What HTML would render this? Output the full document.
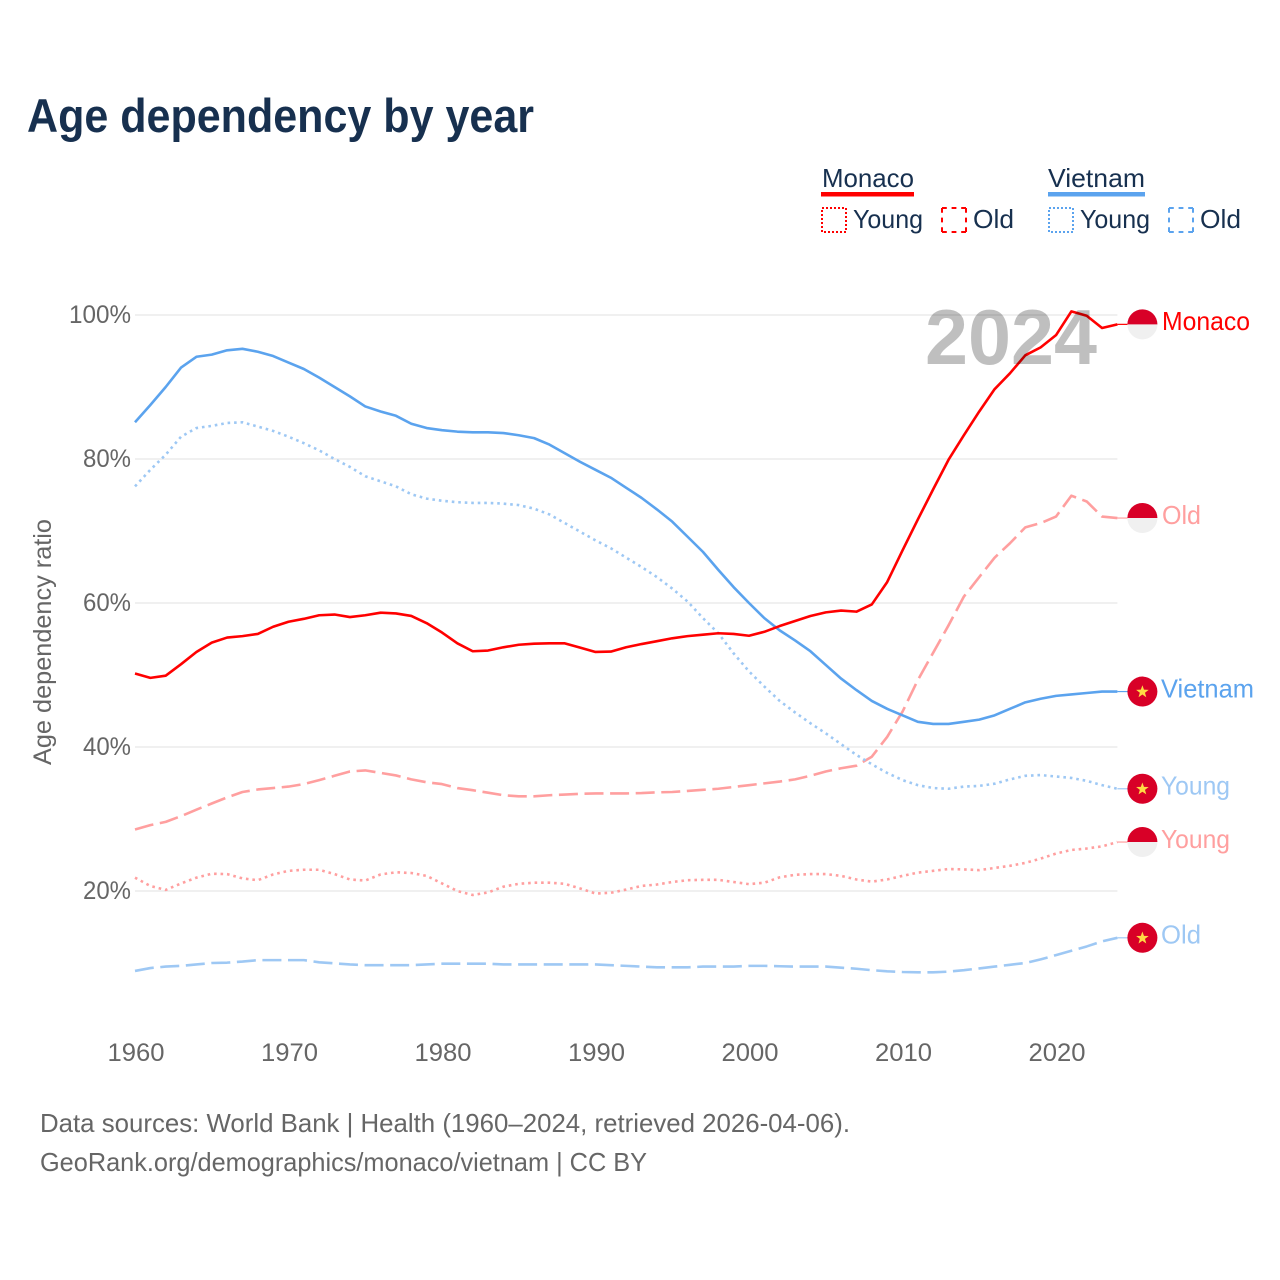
<!DOCTYPE html>
<html lang="en">
<head>
<meta charset="utf-8">
<title>Age dependency by year</title>
<style>
html,body{margin:0;padding:0;background:#fff;}
svg{display:block;font-family:"Liberation Sans",sans-serif;}
</style>
</head>
<body>
<svg id="chart" xmlns="http://www.w3.org/2000/svg" width="1280" height="1280" viewBox="0 0 1280 1280">
  <rect x="0" y="0" width="1280" height="1280" fill="#fff"/>
  <text x="27" y="132" font-size="47" font-weight="700" fill="#17304f" textLength="507" lengthAdjust="spacingAndGlyphs">Age dependency by year</text>

  <g fill="#17304f" font-size="26">
    <text x="822" y="187" textLength="92" lengthAdjust="spacingAndGlyphs">Monaco</text>
    <rect x="821" y="192" width="93" height="4.5" fill="#ff0000"/>
    <rect x="822" y="208" width="24" height="24" fill="none" stroke="#ff0000" stroke-width="2" stroke-dasharray="2 2"/>
    <text x="853" y="228" textLength="70" lengthAdjust="spacingAndGlyphs">Young</text>
    <rect x="942" y="208" width="24" height="24" fill="none" stroke="#ff0000" stroke-width="2" stroke-dasharray="4.8 4.8 4.8 4.8 4.8 0"/>
    <text x="973" y="228" textLength="41" lengthAdjust="spacingAndGlyphs">Old</text>

    <text x="1048" y="187" textLength="97" lengthAdjust="spacingAndGlyphs">Vietnam</text>
    <rect x="1048" y="192" width="97" height="4.5" fill="#5ba3ee"/>
    <rect x="1049" y="208" width="24" height="24" fill="none" stroke="#5ba3ee" stroke-width="2" stroke-dasharray="2 2"/>
    <text x="1080" y="228" textLength="70" lengthAdjust="spacingAndGlyphs">Young</text>
    <rect x="1169" y="208" width="24" height="24" fill="none" stroke="#5ba3ee" stroke-width="2" stroke-dasharray="4.8 4.8 4.8 4.8 4.8 0"/>
    <text x="1200" y="228" textLength="41" lengthAdjust="spacingAndGlyphs">Old</text>
  </g>

  <g id="grid"></g>
  <g id="yticks" fill="#666" font-size="25"></g>
  <g id="xticks" fill="#666" font-size="25"></g>
  <text transform="translate(51,765) rotate(-90)" x="0" y="0" font-size="25" fill="#666" textLength="246" lengthAdjust="spacingAndGlyphs">Age dependency ratio</text>

  <g id="series"></g>
  <text id="year" x="925" y="364" font-size="78" font-weight="700" fill="#000" fill-opacity="0.25" textLength="172" lengthAdjust="spacingAndGlyphs"></text>
  <g id="ends"></g>

  <text x="40" y="1132" font-size="26" fill="#666" textLength="810" lengthAdjust="spacingAndGlyphs">Data sources: World Bank | Health (1960–2024, retrieved 2026-04-06).</text>
  <text x="40" y="1171" font-size="26" fill="#666" textLength="607" lengthAdjust="spacingAndGlyphs">GeoRank.org/demographics/monaco/vietnam | CC BY</text>
</svg>

<script>
const firstYear = 1960;
const xTickYears = [1960, 1970, 1980, 1990, 2000, 2010, 2020];
const yTickValues = [20, 40, 60, 80, 100];
const yearLabel = "2024";

const monacoTotal = [50.2,49.6,49.9,51.5,53.2,54.5,55.2,55.4,55.7,56.7,57.4,57.8,58.3,58.4,58.05,58.3,58.65,58.55,58.2,57.2,55.9,54.4,53.3,53.4,53.85,54.2,54.35,54.4,54.4,53.8,53.2,53.25,53.85,54.3,54.7,55.1,55.4,55.6,55.8,55.7,55.45,56,56.8,57.5,58.2,58.7,58.95,58.8,59.8,62.9,67.3,71.6,75.8,79.9,83.3,86.6,89.7,91.9,94.4,95.5,97.2,100.5,99.9,98.2,98.7];
const monacoOld = [28.55,29.15,29.6,30.4,31.3,32.15,33,33.75,34.1,34.3,34.5,34.85,35.4,36,36.6,36.75,36.4,36.05,35.5,35.1,34.85,34.3,34,33.65,33.3,33.15,33.15,33.3,33.4,33.5,33.55,33.55,33.55,33.6,33.7,33.75,33.9,34.05,34.2,34.45,34.7,34.95,35.2,35.5,36,36.6,37.05,37.4,38.65,41.4,44.9,49.3,53.1,56.9,60.9,63.6,66.3,68.3,70.5,71.1,72,74.9,74.1,72,71.8];
const monacoYoung = [21.85,20.7,20.15,21.05,21.85,22.4,22.35,21.75,21.5,22.3,22.8,22.95,22.95,22.35,21.6,21.45,22.3,22.6,22.5,22.1,21.05,20,19.45,19.8,20.6,21,21.15,21.15,21,20.35,19.65,19.75,20.2,20.7,20.9,21.25,21.5,21.55,21.55,21.25,20.95,21.15,21.9,22.25,22.35,22.35,22.1,21.6,21.3,21.6,22.1,22.55,22.8,23.05,23,22.9,23.2,23.5,23.9,24.5,25.2,25.7,25.9,26.2,26.8];
const vietnamTotal = [85.1,87.5,90,92.7,94.2,94.5,95.1,95.3,94.9,94.3,93.4,92.5,91.3,90,88.7,87.3,86.6,86,84.9,84.3,84,83.8,83.7,83.7,83.6,83.3,82.9,82,80.8,79.6,78.5,77.4,76,74.6,73,71.3,69.2,67.1,64.6,62.2,60,57.9,56.2,54.8,53.3,51.4,49.5,47.9,46.4,45.3,44.4,43.5,43.2,43.2,43.5,43.8,44.4,45.3,46.2,46.7,47.1,47.3,47.5,47.7,47.7];
const vietnamYoung = [76.2,78.5,80.6,83.1,84.3,84.6,85,85.1,84.5,83.9,83.1,82.2,81.2,80,78.9,77.6,76.9,76.2,75.1,74.5,74.2,74,73.9,73.9,73.8,73.6,73.1,72.3,71.1,69.9,68.7,67.6,66.3,65,63.6,62,60.2,57.9,55.8,53,50.5,48.4,46.4,44.8,43.3,41.9,40.4,38.9,37.6,36.4,35.4,34.7,34.3,34.2,34.5,34.6,34.9,35.5,36,36.1,35.9,35.7,35.3,34.7,34.2];
const vietnamOld = [8.9,9.3,9.5,9.6,9.8,10,10.05,10.2,10.4,10.4,10.4,10.4,10.1,9.95,9.8,9.7,9.7,9.7,9.7,9.8,9.9,9.9,9.9,9.9,9.8,9.8,9.8,9.8,9.8,9.8,9.8,9.7,9.6,9.5,9.4,9.4,9.4,9.5,9.5,9.5,9.6,9.6,9.55,9.5,9.5,9.5,9.35,9.2,9,8.85,8.75,8.7,8.7,8.8,9,9.25,9.5,9.75,10,10.5,11.1,11.7,12.3,13,13.5];

const NS = "http://www.w3.org/2000/svg";
const plotLeft = 135, plotRight = 1117.4, yTop = 315, yBottom = 891;
const yearCount = monacoTotal.length;
function xScale(year) {
  return plotLeft + (year - firstYear) * (plotRight - plotLeft) / (yearCount - 1);
}
function yScale(value) {
  return yBottom - (value - 20) * (yBottom - yTop) / 80;
}
function make(tag, attrs, parent) {
  const el = document.createElementNS(NS, tag);
  for (const k in attrs) el.setAttribute(k, attrs[k]);
  parent.appendChild(el);
  return el;
}

const grid = document.getElementById("grid");
const yticks = document.getElementById("yticks");
const xticks = document.getElementById("xticks");
const seriesLayer = document.getElementById("series");
const ends = document.getElementById("ends");

yTickValues.forEach(function (v) {
  const line = make("line", {x1: plotLeft, x2: plotRight, y1: yScale(v), y2: yScale(v), stroke: "#e6e6e6", "stroke-width": 1.3}, grid);
  
  
  const label = make("text", {x: 131, y: yScale(v) + 8, "text-anchor": "end", textLength: v === 100 ? 62 : 48, lengthAdjust: "spacingAndGlyphs"}, yticks);
  
  
  label.textContent = v + "%";
});

xTickYears.forEach(function (y) {
  const label = make("text", {x: xScale(y) - 28 + 0.5, y: 1061, textLength: 57, lengthAdjust: "spacingAndGlyphs"}, xticks);
  
  
  label.textContent = y;
});

const DOT = "2.6 3.9", DASH = "19 6.6";
const seriesList = [
  {key: "vietnam-old", values: vietnamOld, color: "#9ec8f4", dash: DASH, label: "Old", width: 40, labelX: 1161, flag: "vn"},
  {key: "monaco-old", values: monacoOld, color: "#ff9f9f", dash: DASH, label: "Old", width: 39, labelX: 1162, flag: "mc"},
  {key: "monaco-young", values: monacoYoung, color: "#ff9f9f", dash: DOT, label: "Young", width: 69, labelX: 1161, flag: "mc"},
  {key: "vietnam-young", values: vietnamYoung, color: "#9ec8f4", dash: DOT, label: "Young", width: 69, labelX: 1161, flag: "vn"},
  {key: "vietnam-total", values: vietnamTotal, color: "#5ba3ee", dash: "", label: "Vietnam", width: 93, labelX: 1161, flag: "vn"},
  {key: "monaco-total", values: monacoTotal, color: "#ff0000", dash: "", label: "Monaco", width: 88, labelX: 1162, flag: "mc"}
];

seriesList.forEach(function (s) {
  const pts = s.values.map(function (v, i) {
    return xScale(firstYear + i).toFixed(2) + "," + yScale(v).toFixed(2);
  }).join(" ");
  const line = make("polyline", {points: pts, fill: "none", stroke: s.color, "stroke-width": 2.6, "stroke-linejoin": "round"}, seriesLayer);
  if (s.dash) line.setAttribute("stroke-dasharray", s.dash);
  
  

  const endValue = s.values[s.values.length - 1];
  const endY = yScale(endValue);
  const cx = 1142.4;

  const conn = make("line", {x1: plotRight, x2: cx - 14, y1: endY, y2: endY, stroke: s.color, "stroke-width": 1.2}, seriesLayer);
  
  

  const flag = make("g", {}, ends);
  
  
  if (s.flag === "mc") {
    make("circle", {cx: cx, cy: endY, r: 15, fill: "#f0f0f0"}, flag);
    make("path", {d: "M" + (cx - 15) + " " + endY + "A15 15 0 0 1 " + (cx + 15) + " " + endY + "Z", fill: "#d80027"}, flag);
  } else {
    make("circle", {cx: cx, cy: endY, r: 15, fill: "#d80027"}, flag);
    const starPts = [];
    for (let i = 0; i < 10; i++) {
      const r = i % 2 ? 2.7 : 6.6;
      const a = -Math.PI / 2 + i * Math.PI / 5;
      starPts.push((cx + r * Math.cos(a)).toFixed(2) + "," + (endY + 0.3 + r * Math.sin(a)).toFixed(2));
    }
    make("polygon", {points: starPts.join(" "), fill: "#ffda44"}, flag);
  }

  const label = make("text", {x: s.labelX, y: endY + 5.8, "font-size": 26, fill: s.color, textLength: s.width, lengthAdjust: "spacingAndGlyphs"}, ends);
  
  
  label.textContent = s.label;
});

document.getElementById("year").textContent = yearLabel;
</script>
</body>
</html>
